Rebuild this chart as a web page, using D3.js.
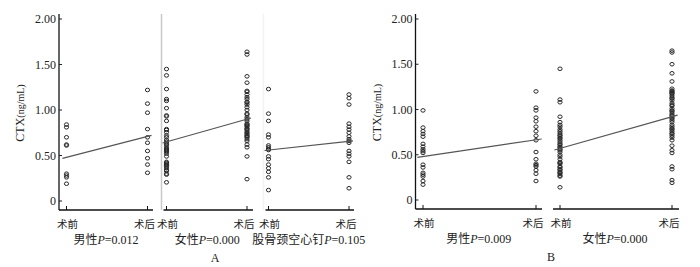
<!DOCTYPE html>
<html>
<head>
<meta charset="utf-8">
<script src="https://cdn.jsdelivr.net/npm/d3@7"></script>
<style>
  body { margin: 0; background: #fff; }
  text { font-family: "Liberation Serif", "Noto Sans CJK SC", serif; fill: #222; }
</style>
</head>
<body>
<svg id="chart"></svg>
<script>
// Categories and axis ticks
const categories = ["术前", "术后"];
const yTicks = [0, 0.5, 1, 1.5, 2];
const yTickLabels = ["0", "0.50", "1.00", "1.50", "2.00"];

// Panel A: male / female / femoral neck hollow screw
const aMalePre = [0.84, 0.81, 0.70, 0.62, 0.61, 0.30, 0.28, 0.26, 0.19];
const aMalePost = [1.22, 1.07, 0.97, 0.79, 0.70, 0.64, 0.55, 0.47, 0.40, 0.31];
const aFemalePre = [1.45, 1.38, 1.23, 1.12, 1.10, 1.02, 0.94, 0.93, 0.88, 0.79, 0.78, 0.755, 0.72, 0.70,
  0.67, 0.65, 0.63, 0.62, 0.60, 0.58, 0.57, 0.56, 0.55, 0.54, 0.52, 0.49, 0.43, 0.42, 0.41, 0.40,
  0.39, 0.38, 0.36, 0.34, 0.33, 0.30, 0.29, 0.205];
const aFemalePost = [1.64, 1.61, 1.37, 1.30, 1.21, 1.20, 1.17, 1.14, 1.12, 1.09, 1.08, 1.06, 1.03, 1.00,
  0.96, 0.95, 0.92, 0.90, 0.88, 0.85, 0.84, 0.83, 0.82, 0.80, 0.79, 0.78, 0.76, 0.75, 0.735,
  0.72, 0.71, 0.70, 0.68, 0.66, 0.62, 0.59, 0.49, 0.24];
const aScrewPre = [1.23, 0.96, 0.88, 0.73, 0.70, 0.61, 0.59, 0.57, 0.56, 0.49, 0.46, 0.40, 0.36, 0.32, 0.26, 0.12];
const aScrewPost = [1.17, 1.13, 1.06, 0.85, 0.815, 0.785, 0.75, 0.71, 0.68, 0.66, 0.64, 0.55, 0.52, 0.49, 0.43, 0.26, 0.14];
const aGroups = ["男性", "女性", "股骨颈空心钉"];
const aPValues = ["0.012", "0.000", "0.105"];
const aFitPre = [0.48, 0.65, 0.56];
const aFitPost = [0.71, 0.90, 0.655];

// Panel B: male / female
const bMalePre = [0.99, 0.80, 0.76, 0.73, 0.70, 0.62, 0.59, 0.56, 0.54, 0.52, 0.39, 0.36, 0.30, 0.28, 0.26, 0.21, 0.17];
const bMalePost = [1.20, 1.02, 0.99, 0.91, 0.87, 0.81, 0.76, 0.71, 0.66, 0.53, 0.45, 0.40, 0.385, 0.37, 0.33, 0.29, 0.21];
const bFemalePre = [1.45, 1.11, 1.08, 0.92, 0.86, 0.83, 0.81, 0.78, 0.76, 0.74, 0.72, 0.71, 0.69, 0.68, 0.66,
  0.64, 0.62, 0.61, 0.59, 0.58, 0.56, 0.55, 0.53, 0.50, 0.48, 0.45, 0.42, 0.41, 0.40, 0.37, 0.36,
  0.34, 0.33, 0.31, 0.30, 0.29, 0.27, 0.26, 0.14];
const bFemalePost = [1.65, 1.63, 1.50, 1.40, 1.31, 1.23, 1.21, 1.20, 1.19, 1.18, 1.17, 1.15, 1.13, 1.12, 1.10,
  1.07, 1.05, 1.04, 1.01, 0.99, 0.98, 0.96, 0.94, 0.93, 0.91, 0.90, 0.88, 0.86, 0.83, 0.81, 0.79,
  0.78, 0.76, 0.74, 0.73, 0.71, 0.69, 0.66, 0.60, 0.55, 0.52, 0.37, 0.34, 0.22, 0.19];
const bGroups = ["男性", "女性"];
const bPValues = ["0.009", "0.000"];
const bFitPre = [0.48, 0.57];
const bFitPost = [0.665, 0.92];

const width = 700, height = 267;
const svg = d3.select("#chart").attr("width", width).attr("height", height);

function drawPanel(cfg) {
    const g = svg.append("g");
    // y scale shared by all facets in a panel
    const y = d3.scaleLinear().domain([0, 2]).range([cfg.yBottom, cfg.yTop]);
    const baseY = cfg.yBottom + 9;

    // Light separators between facets
    cfg.facets.forEach((f, i) => {
        if (i === 0 || !f.sepColor) return;
        g.append("line")
            .attr("x1", f.x0).attr("x2", f.x0)
            .attr("y1", cfg.yTop - 5).attr("y2", baseY)
            .attr("stroke", f.sepColor).attr("stroke-width", 1.5);
    });

    // y axis with ticks pointing inward
    g.append("line")
        .attr("x1", cfg.axisX).attr("x2", cfg.axisX)
        .attr("y1", cfg.yTop - 5).attr("y2", baseY)
        .attr("stroke", cfg.axisColor).attr("stroke-width", cfg.axisWidth);
    g.selectAll(".ytick").data(yTicks).enter().append("line")
        .attr("x1", cfg.axisX).attr("x2", cfg.axisX + 3)
        .attr("y1", d => y(d)).attr("y2", d => y(d))
        .attr("stroke", "#222").attr("stroke-width", 1);
    g.selectAll(".ylab").data(yTicks).enter().append("text")
        .attr("x", cfg.axisX - 3).attr("y", d => y(d))
        .attr("dy", "0.35em").attr("text-anchor", "end")
        .attr("font-size", 12)
        .text((d, i) => yTickLabels[i]);

    // y axis title
    const title = g.append("text")
        .attr("transform", `translate(${cfg.axisX - 35},${(cfg.yTop + cfg.yBottom) / 2 + 3}) rotate(-90)`)
        .attr("text-anchor", "middle").attr("font-size", 12);
    title.append("tspan").text("CTX");
    title.append("tspan").attr("font-size", 10).text("(ng/mL)");

    cfg.facets.forEach((f, i) => {
        const x = d3.scalePoint().domain(categories).range([f.x0 + f.inL, f.x1 - f.inR]);
        const t = d3.scaleLinear().domain([0, 1]).range(x.range());
        const fg = g.append("g");

        // bottom axis with ticks pointing up
        fg.append("line")
            .attr("x1", i === 0 ? cfg.axisX : f.x0 + 2).attr("x2", f.x1)
            .attr("y1", baseY).attr("y2", baseY)
            .attr("stroke", "#111").attr("stroke-width", 1.3);
        fg.selectAll(".xtick").data(categories).enter().append("line")
            .attr("x1", d => x(d)).attr("x2", d => x(d))
            .attr("y1", baseY).attr("y2", baseY - 4)
            .attr("stroke", "#111").attr("stroke-width", 1);
        fg.selectAll(".xlab").data(categories).enter().append("text")
            .attr("x", (d, j) => x(d) + (j === 0 ? 1 : -3)).attr("y", baseY + 18)
            .attr("text-anchor", "middle").attr("font-size", 10.5)
            .text(d => d);

        // points
        [f.pre, f.post].forEach((vals, ci) => {
            fg.selectAll(null).data(vals).enter().append("ellipse")
                .attr("cx", x(categories[ci])).attr("cy", d => y(d))
                .attr("rx", 2.1).attr("ry", 1.8)
                .attr("fill", "none").attr("stroke", "#2a2a2a").attr("stroke-width", 1);
        });

        // fit line
        fg.append("line")
            .attr("x1", t(-0.05)).attr("x2", t(1.05))
            .attr("y1", y(f.fit[0] - 0.05 * (f.fit[1] - f.fit[0])))
            .attr("y2", y(f.fit[1] + 0.05 * (f.fit[1] - f.fit[0])))
            .attr("stroke", "#555").attr("stroke-width", 1.2);

        // group label
        const lab = fg.append("text")
            .attr("x", (f.x0 + f.x1) / 2).attr("y", baseY + 34)
            .attr("text-anchor", "middle").attr("font-size", 12);
        lab.append("tspan").text(f.name);
        lab.append("tspan").attr("font-style", "italic").text("P");
        lab.append("tspan").text("=" + f.p);
    });

    g.append("text")
        .attr("x", cfg.letterX).attr("y", baseY + 52)
        .attr("text-anchor", "middle").attr("font-size", 12)
        .text(cfg.letter);
}

drawPanel({
    letter: "A", letterX: 215,
    axisX: 59, axisColor: "#666", axisWidth: 2,
    yTop: 19, yBottom: 201,
    facets: [
        { x0: 59, x1: 153, inL: 7.5, inR: 5.5, pre: aMalePre, post: aMalePost,
          fit: [aFitPre[0], aFitPost[0]], name: aGroups[0], p: aPValues[0] },
        { x0: 161.5, x1: 253, inL: 5, inR: 6, pre: aFemalePre, post: aFemalePost, sepColor: "#c8c8c8",
          fit: [aFitPre[1], aFitPost[1]], name: aGroups[1], p: aPValues[1] },
        { x0: 263.5, x1: 354, inL: 5, inR: 5, pre: aScrewPre, post: aScrewPost, sepColor: "#f3f3f3",
          fit: [aFitPre[2], aFitPost[2]], name: aGroups[2], p: aPValues[2] }
    ]
});

drawPanel({
    letter: "B", letterX: 551,
    axisX: 415.5, axisColor: "#111", axisWidth: 1.3,
    yTop: 19, yBottom: 200,
    facets: [
        { x0: 415.5, x1: 542, inL: 7.5, inR: 6, pre: bMalePre, post: bMalePost,
          fit: [bFitPre[0], bFitPost[0]], name: bGroups[0], p: bPValues[0] },
        { x0: 551, x1: 679, inL: 9, inR: 7, pre: bFemalePre, post: bFemalePost,
          fit: [bFitPre[1], bFitPost[1]], name: bGroups[1], p: bPValues[1] }
    ]
});
</script>
</body>
</html>
